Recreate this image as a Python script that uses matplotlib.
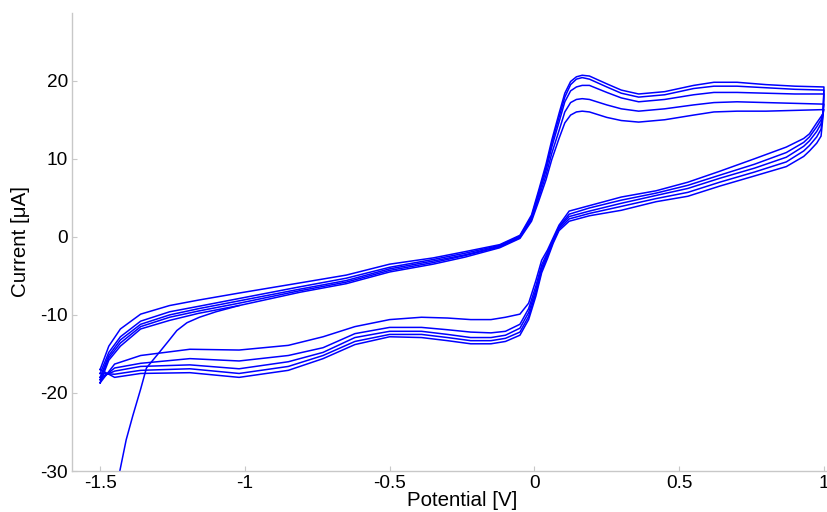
import matplotlib
matplotlib.use('Agg')
import matplotlib.pyplot as plt

plt.rcParams['font.family'] = ['Liberation Sans', 'DejaVu Sans']
plt.rcParams['axes.unicode_minus'] = False

# potential grid of the forward (positive going) scan, V
v_fwd = [-1.5, -1.47, -1.43, -1.36, -1.26, -1.16, -1.02, -0.81, -0.65, -0.5,
         -0.35, -0.24, -0.12, -0.05, -0.01, 0.015, 0.04, 0.06, 0.085, 0.105,
         0.125, 0.145, 0.165, 0.19, 0.25, 0.3, 0.36, 0.45, 0.55, 0.62,
         0.7, 0.8, 0.9, 1.0]

# forward scan currents, uA, one list per cycle
i_fwd_1 = [-17.0, -14.0, -11.8, -9.9, -8.8, -8.1, -7.2, -5.9, -4.9, -3.5,
           -2.7, -1.9, -1.0, 0.2, 2.8, 6.0, 9.3, 12.4, 15.8, 18.4,
           19.9, 20.5, 20.7, 20.6, 19.6, 18.8, 18.3, 18.6, 19.4, 19.8,
           19.8, 19.5, 19.3, 19.2]
i_fwd_2 = [-17.5, -14.8, -12.8, -10.8, -9.6, -8.9, -7.9, -6.4, -5.3, -3.9,
           -2.9, -2.1, -1.1, 0.1, 2.6, 5.7, 8.9, 12.0, 15.3, 17.9,
           19.5, 20.2, 20.4, 20.2, 19.2, 18.4, 17.9, 18.2, 19.0, 19.3,
           19.3, 19.1, 18.9, 18.8]
i_fwd_3 = [-18.0, -15.2, -13.2, -11.2, -10.0, -9.2, -8.2, -6.7, -5.6, -4.1,
           -3.1, -2.3, -1.2, 0.0, 2.4, 5.4, 8.5, 11.5, 14.7, 17.3,
           18.7, 19.2, 19.4, 19.4, 18.5, 17.8, 17.3, 17.6, 18.2, 18.5,
           18.5, 18.4, 18.3, 18.3]
i_fwd_4 = [-18.3, -15.5, -13.6, -11.5, -10.3, -9.5, -8.5, -6.9, -5.8, -4.3,
           -3.3, -2.4, -1.3, -0.1, 2.2, 5.0, 7.9, 10.7, 13.6, 16.0,
           17.2, 17.6, 17.7, 17.6, 16.9, 16.4, 16.1, 16.4, 16.9, 17.2,
           17.3, 17.2, 17.1, 17.0]
i_fwd_5 = [-18.7, -15.8, -14.0, -11.8, -10.7, -9.8, -8.8, -7.1, -6.0, -4.5,
           -3.5, -2.6, -1.4, -0.2, 2.0, 4.6, 7.3, 9.9, 12.6, 14.6,
           15.6, 16.0, 16.1, 16.0, 15.3, 14.9, 14.7, 15.0, 15.6, 16.0,
           16.1, 16.1, 16.2, 16.3]

# potential grid of the reverse (negative going) scan, V
v_rev = [1.0, 0.997, 0.99, 0.975, 0.95, 0.93, 0.87, 0.76, 0.64, 0.53, 0.42,
         0.3, 0.19, 0.12, 0.085, 0.065, 0.045, 0.025, 0.005, -0.02, -0.05,
         -0.1, -0.15, -0.22, -0.3, -0.39, -0.5, -0.62, -0.73, -0.85, -1.02,
         -1.19, -1.36, -1.45, -1.5]

i_rev_1 = [19.2, 15.5, 12.9, 12.0, 11.0, 10.3, 9.0, 7.8, 6.5, 5.2, 4.5,
           3.4, 2.7, 2.0, 0.8, -0.8, -2.8, -4.6, -7.6, -10.6, -12.6,
           -13.4, -13.7, -13.7, -13.3, -12.9, -12.8, -13.8, -15.6, -17.1, -18.0,
           -17.4, -17.5, -18.0, -17.0]
i_rev_2 = [18.8, 15.8, 13.8, 12.8, 11.7, 11.0, 9.6, 8.3, 7.0, 5.7, 4.9,
           3.9, 3.0, 2.3, 1.0, -0.6, -2.5, -4.3, -7.2, -10.2, -12.2,
           -13.0, -13.3, -13.3, -12.9, -12.5, -12.5, -13.4, -15.2, -16.6, -17.5,
           -16.9, -17.1, -17.6, -17.5]
i_rev_3 = [18.3, 16.0, 14.5, 13.5, 12.3, 11.6, 10.2, 8.8, 7.5, 6.2, 5.3,
           4.3, 3.3, 2.6, 1.2, -0.4, -2.2, -4.0, -6.8, -9.7, -11.7,
           -12.6, -12.9, -12.9, -12.5, -12.1, -12.1, -12.9, -14.8, -16.0, -16.9,
           -16.4, -16.6, -17.2, -18.0]
i_rev_4 = [17.0, 15.9, 15.0, 14.1, 12.8, 12.1, 10.8, 9.3, 7.9, 6.6, 5.6,
           4.7, 3.7, 2.9, 1.3, -0.3, -2.0, -3.6, -6.3, -9.2, -11.2,
           -12.1, -12.3, -12.2, -11.9, -11.6, -11.6, -12.4, -14.2, -15.2, -15.9,
           -15.6, -16.2, -16.8, -18.3]
i_rev_5 = [16.3, 15.8, 15.4, 14.6, 13.2, 12.6, 11.5, 10.0, 8.4, 7.0, 5.9,
           5.1, 4.0, 3.3, 1.5, -0.1, -1.7, -3.0, -5.6, -8.5, -9.9,
           -10.3, -10.6, -10.6, -10.4, -10.3, -10.6, -11.5, -12.8, -13.9, -14.5,
           -14.4, -15.2, -16.3, -18.7]

# first sweep coming up from below the plot before the cycles begin
v_start = [-1.445, -1.432, -1.41, -1.387, -1.36, -1.34, -1.30, -1.265, -1.235,
           -1.2, -1.157, -1.1, -1.06, -1.02]
i_start = [-33.0, -30.0, -26.0, -22.9, -19.5, -16.8, -15.0, -13.4, -12.0,
           -11.0, -10.3, -9.6, -9.2, -8.8]

x_ticks = [-1.5, -1, -0.5, 0, 0.5, 1]
x_tick_labels = ['-1.5', '-1', '-0.5', '0', '0.5', '1']
y_ticks = [-30, -20, -10, 0, 10, 20]
y_tick_labels = ['-30', '-20', '-10', '0', '10', '20']

fwd = [i_fwd_1, i_fwd_2, i_fwd_3, i_fwd_4, i_fwd_5]
rev = [i_rev_1, i_rev_2, i_rev_3, i_rev_4, i_rev_5]

fig = plt.figure(figsize=(8.28, 5.12), dpi=100)
ax = fig.add_axes([0.087, 0.080, 0.913, 0.895])

ax.plot(v_start, i_start, color='#0000ff', lw=1.1)
for i_f, i_r in zip(fwd, rev):
    ax.plot(v_fwd + v_rev, i_f + i_r, color='#0000ff', lw=1.1)

ax.set_xlim(-1.597, 1.014)
ax.set_ylim(-30, 28.7)
ax.set_xticks(x_ticks)
ax.set_xticklabels(x_tick_labels)
ax.set_yticks(y_ticks)
ax.set_yticklabels(y_tick_labels)

for side in ['top', 'right']:
    ax.spines[side].set_visible(False)
for side in ['left', 'bottom']:
    ax.spines[side].set_color('#c8c8c8')
    ax.spines[side].set_linewidth(1.0)
ax.tick_params(direction='in', length=3.5, color='#c8c8c8', labelsize=13.7,
               pad=3, labelcolor='black')

ax.set_xlabel('Potential [V]', fontsize=14.8)
ax.set_ylabel('Current [μA]', fontsize=14.8)
ax.xaxis.set_label_coords(0.5165, -0.044)
ax.yaxis.set_label_coords(-0.056, 0.5)

fig.savefig('out.png', dpi=100)
